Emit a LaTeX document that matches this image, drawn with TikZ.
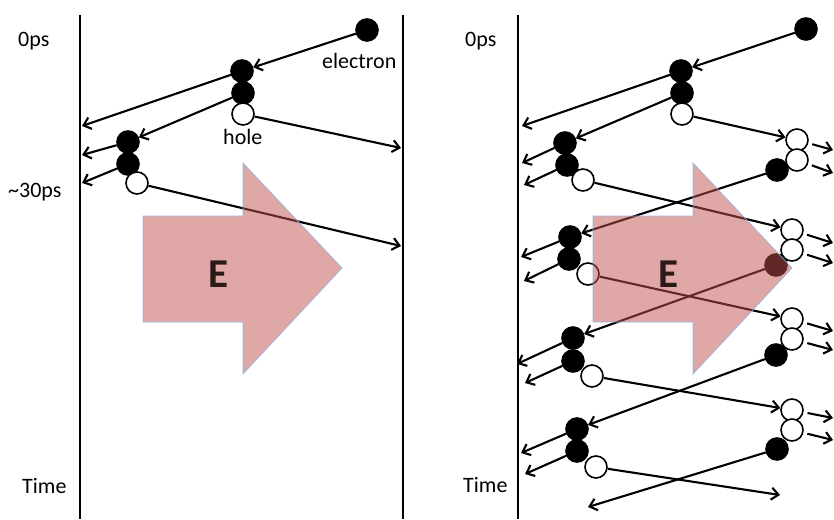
\documentclass[tikz,border=0pt]{standalone}
\usepackage{fontspec}
\setmainfont{Carlito}
\usetikzlibrary{arrows.meta}
\definecolor{efill}{HTML}{C0504D}
\definecolor{eline}{HTML}{8EB4E3}
\definecolor{etext}{HTML}{2B1A1A}
\begin{document}
\begin{tikzpicture}[x=1pt,y=-1pt,
  lbl/.style={anchor=base west,inner sep=0pt,font=\fontsize{22}{26}\selectfont},
  full/.style={circle,draw=black,fill=black,line width=1.6pt,minimum size=22pt,inner sep=0pt},
  open/.style={circle,draw=black,fill=white,line width=1.6pt,minimum size=22pt,inner sep=0pt},
  arr/.style={line width=2.1pt,-{Straight Barb[length=7pt,width=12pt,line width=2.1pt]}},
  wall/.style={line width=2.8pt},
  earrow/.style={fill=efill,fill opacity=0.5,draw=eline,draw opacity=0.9,line width=0.7pt},
  etxt/.style={text=etext,font=\fontsize{41}{48}\selectfont\bfseries,inner sep=0pt}]
\useasboundingbox (0,0) rectangle (834,519);

% ---------------- left panel ----------------
\coordinate (LwT) at (80,15); \coordinate (LwB) at (80,519);
\coordinate (RwT) at (403,15); \coordinate (RwB) at (403,519);
\draw[wall] (LwT) -- (LwB);
\draw[wall] (RwT) -- (RwB);

\node[lbl] (t0L) at (18,47) {0ps};
\node[lbl] (t30L) at (8,197) {\textasciitilde30ps};
\node[lbl] (tTL) at (22,493) {Time};
\node[lbl] (tel) at (322,68) {electron};
\node[lbl] (tho) at (223,144) {hole};

\node[full] (L1) at (367,30) {};
\node[full] (L2) at (242,71) {};
\node[full] (L3) at (243,93) {};
\node[open] (L4) at (243,114) {};
\node[full] (L5) at (128,142) {};
\node[full] (L6) at (128,164) {};
\node[open] (L7) at (137,183) {};

\coordinate (la) at (82,126);
\coordinate (lb) at (401,148);
\coordinate (lc) at (82,155);
\coordinate (ld) at (82,183);
\coordinate (le) at (401,246);

\draw[arr] (L1) -- (L2);
\draw[arr] (L2) -- (la);
\draw[arr] (L3) -- (L5);
\draw[arr] (L4) -- (lb);
\draw[arr] (L5) -- (lc);
\draw[arr] (L6) -- (ld);
\draw[arr] (L7) -- (le);

% ---------------- right panel ----------------
\coordinate (MwT) at (518,15); \coordinate (MwB) at (518,519);
\draw[wall] (MwT) -- (MwB);

\node[lbl] (t0R) at (465,47) {0ps};
\node[lbl] (tTR) at (463,492) {Time};

\node[full] (R1) at (806,29) {};
\node[full] (R2) at (681,71) {};
\node[full] (R3) at (682,93) {};
\node[open] (R4) at (682,114) {};
\node[full] (R5) at (565,143) {};
\node[full] (R6) at (567,165) {};
\node[open] (R7) at (583,180) {};
\node[open] (R8) at (797,140) {};
\node[open] (R9) at (797,160) {};
\node[full] (R10) at (777,170) {};
\node[full] (R11) at (570,237) {};
\node[full] (R12) at (569,259) {};
\node[open] (R13) at (588,274) {};
\node[open] (R14) at (792,230) {};
\node[open] (R15) at (792,250) {};
\node[full] (R16) at (776,265) {};
\node[full] (R17) at (573,338) {};
\node[full] (R18) at (573,361) {};
\node[open] (R19) at (592,376) {};
\node[open] (R20) at (792,319) {};
\node[open] (R21) at (792,339) {};
\node[full] (R22) at (776,355) {};
\node[open] (R23) at (792,410) {};
\node[open] (R24) at (792,430) {};
\node[full] (R25) at (777,449) {};
\node[full] (R26) at (577,429) {};
\node[full] (R27) at (577,451) {};
\node[open] (R28) at (596,467) {};

\coordinate (ra) at (522,126);
\coordinate (rb) at (522,163);
\coordinate (rc) at (524,185);
\coordinate (rd) at (521,257);
\coordinate (re) at (524,281);
\coordinate (rf) at (517,364);
\coordinate (rg) at (525,383);
\coordinate (rh) at (521,453);
\coordinate (ri) at (525,474);
\coordinate (rj) at (780,495);
\coordinate (rk) at (588,507);

\draw[arr] (R1) -- (R2);
\draw[arr] (R2) -- (ra);
\draw[arr] (R3) -- (R5);
\draw[arr] (R4) -- (R8);
\draw[arr] (R5) -- (rb);
\draw[arr] (R6) -- (rc);
\draw[arr] (R7) -- (R14);
\draw[arr] (R10) -- (R11);
\draw[arr] (R11) -- (rd);
\draw[arr] (R12) -- (re);
\draw[arr] (R13) -- (R20);
\draw[arr] (R16) -- (R17);
\draw[arr] (R17) -- (rf);
\draw[arr] (R18) -- (rg);
\draw[arr] (R19) -- (R23);
\draw[arr] (R22) -- (R26);
\draw[arr] (R26) -- (rh);
\draw[arr] (R27) -- (ri);
\draw[arr] (R28) -- (rj);
\draw[arr] (R25) -- (rk);

% small outgoing arrows at right edge
\coordinate (s8) at (833,150);
\coordinate (s9) at (833,173);
\coordinate (s14) at (833,243);
\coordinate (s15) at (833,263);
\coordinate (s20) at (833,331);
\coordinate (s21) at (833,350);
\coordinate (s23) at (833,418);
\coordinate (s24) at (833,440);
\draw[arr,shorten <=4pt] (R8) -- (s8);
\draw[arr,shorten <=4pt] (R9) -- (s9);
\draw[arr,shorten <=4pt] (R14) -- (s14);
\draw[arr,shorten <=4pt] (R15) -- (s15);
\draw[arr,shorten <=4pt] (R20) -- (s20);
\draw[arr,shorten <=4pt] (R21) -- (s21);
\draw[arr,shorten <=4pt] (R23) -- (s23);
\draw[arr,shorten <=4pt] (R24) -- (s24);

% ---------------- field arrows (E) ----------------
\draw[earrow] (143,216) -- (243,216) -- (243,163) -- (342,268) -- (243,374) -- (243,322) -- (143,322) -- cycle;
\node[etxt] (EL) at (218,274) {E};
\draw[earrow] (593,216) -- (693,216) -- (693,163) -- (792,268) -- (693,374) -- (693,322) -- (593,322) -- cycle;
\node[etxt] (ER) at (668,274) {E};
\end{tikzpicture}
\end{document}
